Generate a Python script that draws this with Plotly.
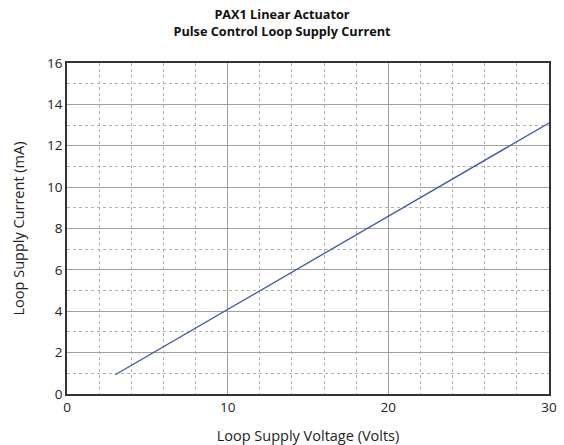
import plotly.graph_objects as go

voltage = [3, 30]
current = [0.93, 13.1]

title_text = "<b>PAX1 Linear Actuator<br>Pulse Control Loop Supply Current</b>"
x_title = "Loop Supply Voltage (Volts)"
y_title = "Loop Supply Current (mA)"

fig = go.Figure()
fig.add_trace(go.Scatter(x=voltage, y=current, mode="lines",
                         line=dict(color="#3f58a8", width=1.3), showlegend=False))

font_family = "Open Sans, Noto Sans, DejaVu Sans, sans-serif"

fig.update_layout(
    width=564, height=445,
    margin=dict(l=67, r=15, t=63, b=51, autoexpand=False),
    paper_bgcolor="white", plot_bgcolor="white",
    font=dict(family=font_family, color="#222", size=13),
    title=dict(text=title_text, x=0.5, xanchor="center", y=0.957, yanchor="top",
               font=dict(size=12.7, color="#111", family=font_family)),
)

axis_common = dict(
    showline=True, linecolor="#333", linewidth=1.5, mirror=True,
    showgrid=True, gridcolor="#a0a0a0", gridwidth=1, automargin=False,
    zeroline=False, ticks="", tickfont=dict(size=13.5, color="#222"),
)

fig.update_xaxes(
    range=[0, 30], dtick=10, tick0=0,
    minor=dict(dtick=2, showgrid=True, gridcolor="#b0b0b0", griddash="dot", gridwidth=1),
    title=dict(text=x_title, font=dict(size=14.5), standoff=17),
    **axis_common,
)
fig.update_yaxes(
    range=[0, 16], dtick=2, tick0=0,
    minor=dict(dtick=1, showgrid=True, gridcolor="#b0b0b0", griddash="dot", gridwidth=1),
    title=dict(text=y_title, font=dict(size=14.5), standoff=19),
    **axis_common,
)

fig.write_html("out.html", config={"displayModeBar": False},
               post_script="document.body.style.margin='0';document.body.style.overflow='hidden';")
